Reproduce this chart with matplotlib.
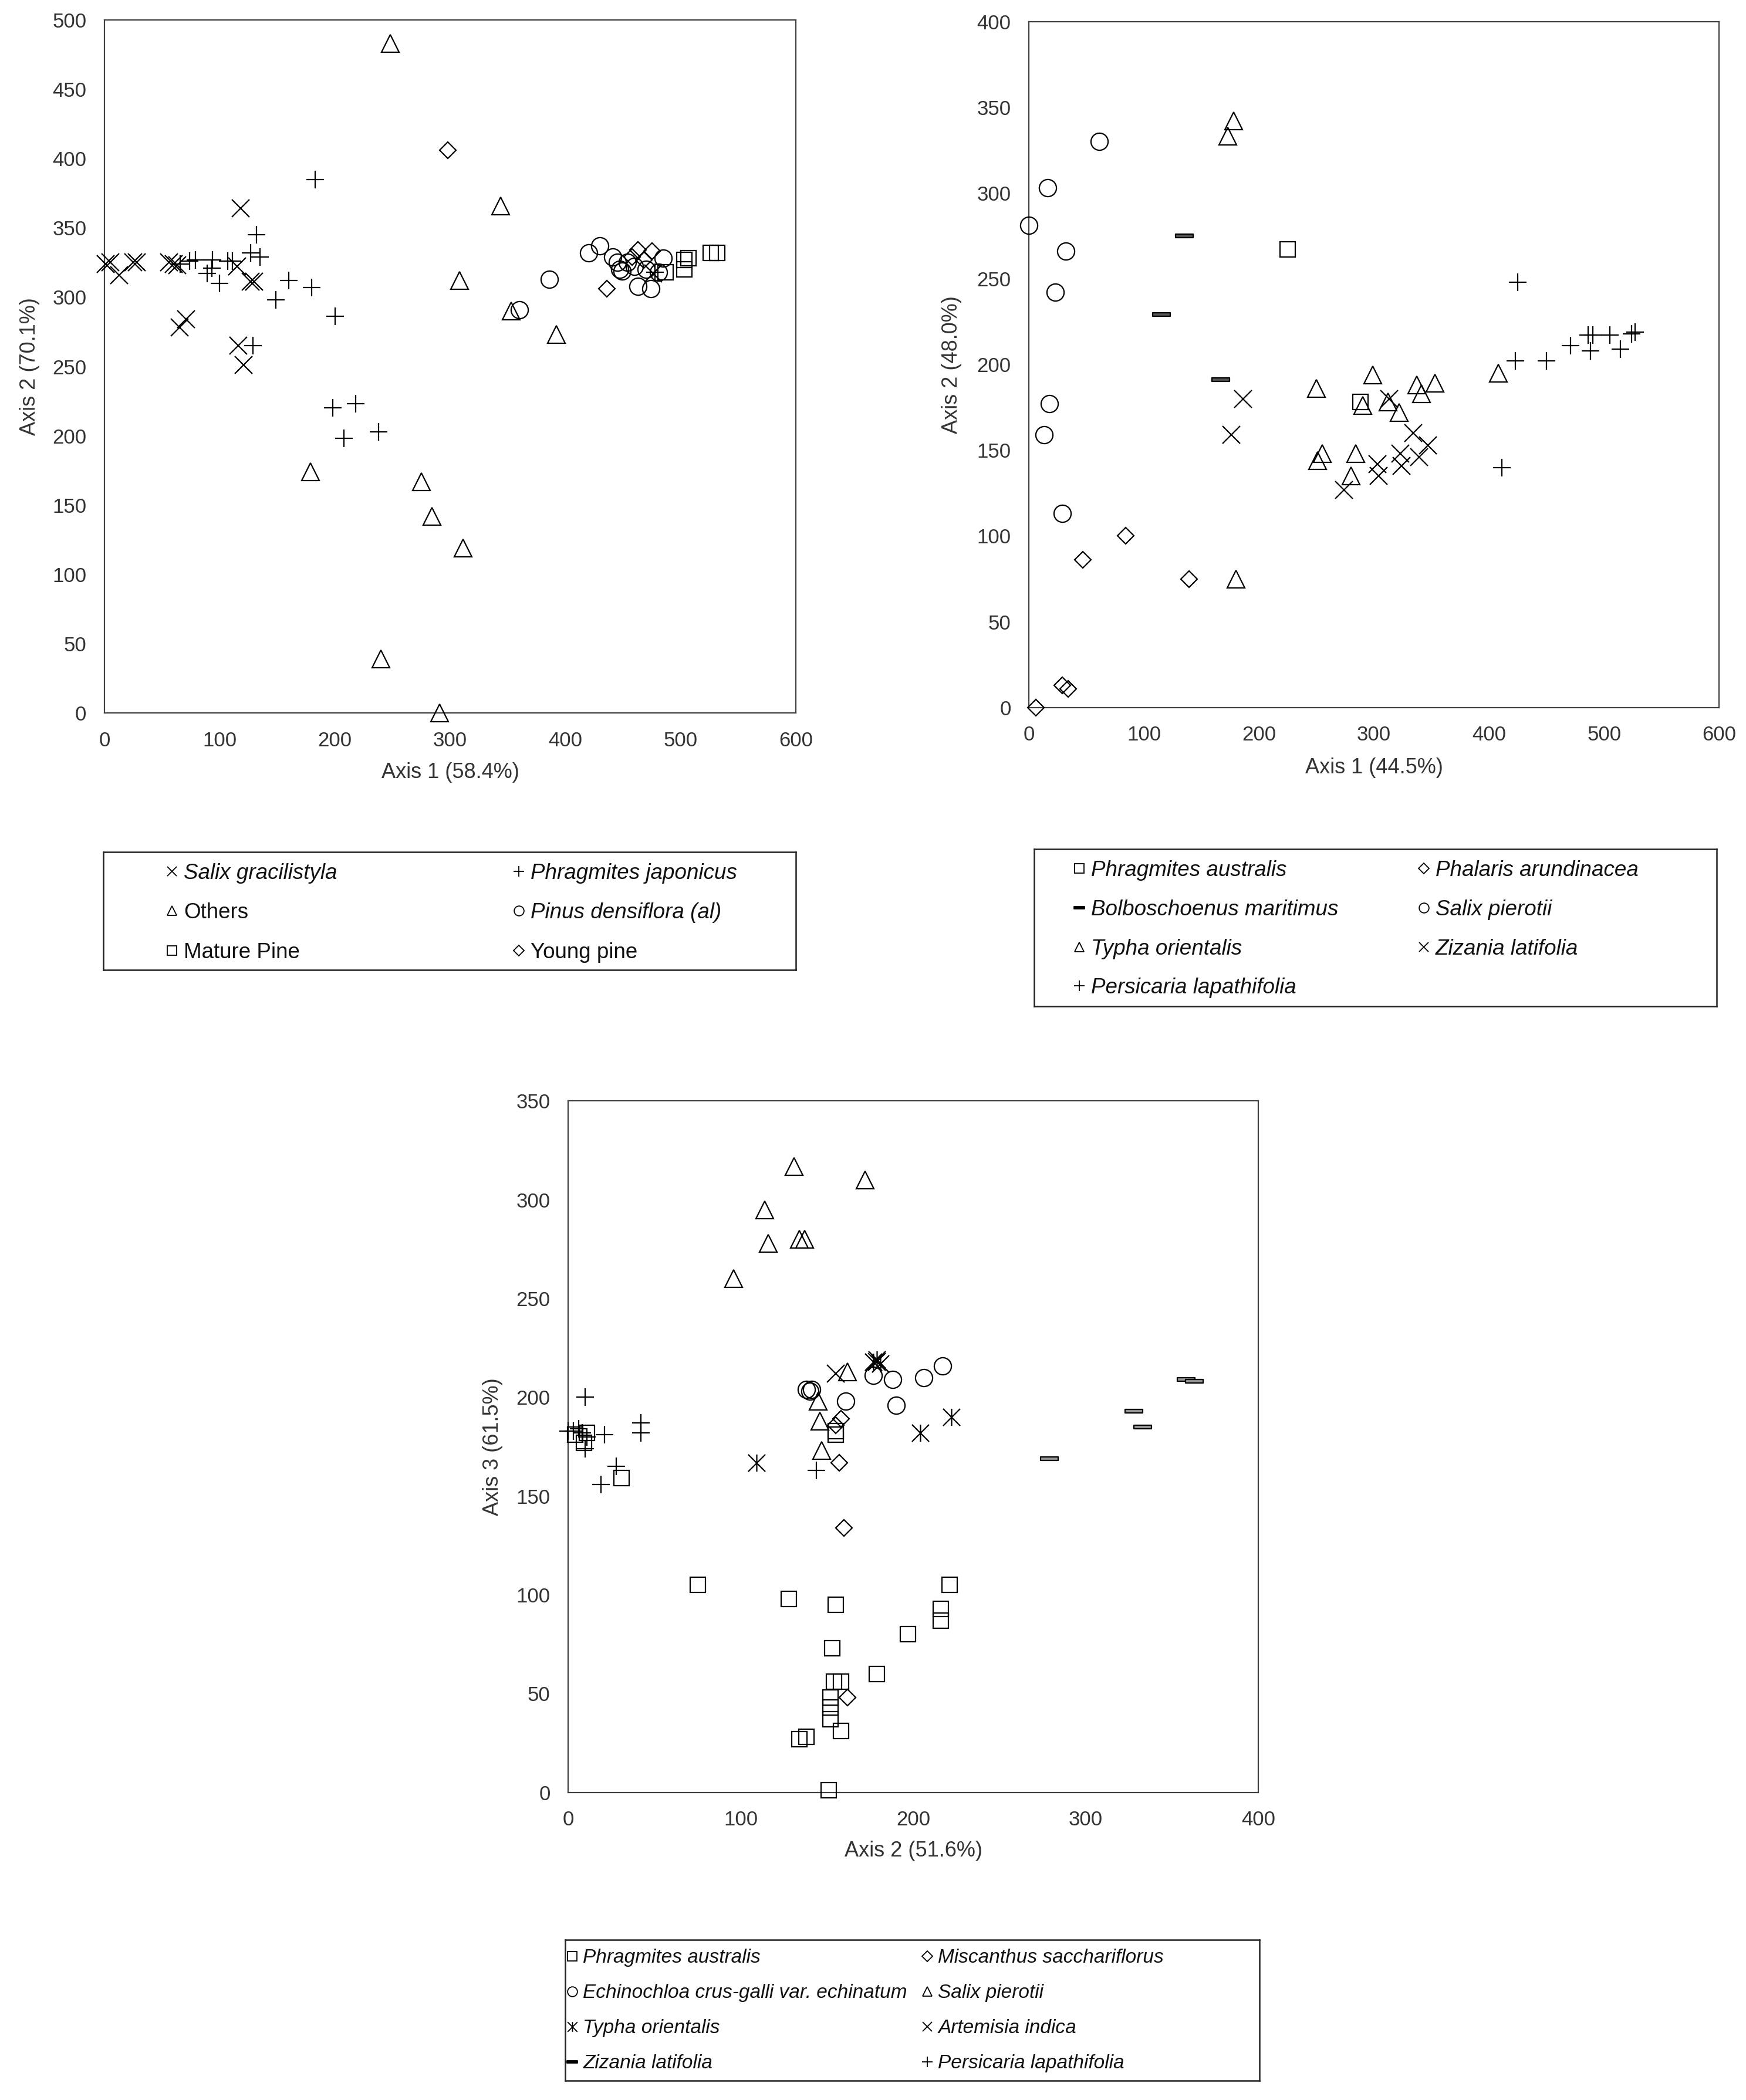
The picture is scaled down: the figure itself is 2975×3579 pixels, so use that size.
import numpy as np
import matplotlib
matplotlib.use("Agg")
import matplotlib.pyplot as plt
from matplotlib.lines import Line2D
from matplotlib.path import Path

plt.rcParams['font.family'] = ['Liberation Sans', 'DejaVu Sans']

# ---------------- panel 1 data (Axis 1 vs Axis 2) ----------------
p1_salix_x = [1, 5, 13, 25, 28, 56, 60, 63, 115, 118, 127, 130, 71, 65, 116, 121, 476]
p1_salix_y = [324, 325, 316, 325, 325, 325, 324, 323, 322, 364, 311, 311, 284, 278, 265, 251, 317]
p1_phrag_x = [183, 132, 127, 135, 66, 74, 79, 94, 89, 93, 100, 107, 111, 160, 180, 149, 200, 129,
              198, 218, 208, 238, 478]
p1_phrag_y = [385, 345, 332, 329, 324, 326, 327, 327, 317, 321, 310, 326, 326, 312, 307, 298, 286, 265,
              220, 223, 198, 203, 318]
p1_others_x = [248, 344, 308, 353, 392, 179, 275, 284, 311, 240, 291]
p1_others_y = [483, 366, 312, 290, 273, 174, 167, 142, 119, 39, 0]
p1_pinus_x = [360, 386, 420, 430, 441, 445, 447, 449, 454, 460, 470, 485, 481, 463, 474]
p1_pinus_y = [291, 313, 332, 337, 329, 325, 320, 319, 325, 322, 320, 328, 318, 308, 306]
p1_mature_x = [487, 503, 503, 507, 526, 532]
p1_mature_y = [318, 320, 327, 328, 332, 332]
p1_young_x = [298, 436, 463, 475, 458, 468]
p1_young_y = [406, 306, 334, 333, 329, 327]

# ---------------- panel 2 data (Axis 1 vs Axis 2) ----------------
p2_phrag_x = [225, 288]
p2_phrag_y = [267, 178]
p2_phalaris_x = [6, 29, 34, 47, 84, 139]
p2_phalaris_y = [0, 13, 11, 86, 100, 75]
p2_bolbo_x = [135, 115, 167]
p2_bolbo_y = [275, 229, 191]
p2_salix_x = [0, 16, 61, 32, 23, 18, 13, 29]
p2_salix_y = [281, 303, 330, 266, 242, 177, 159, 113]
p2_typha_x = [173, 178, 180, 250, 299, 290, 312, 322, 337, 353, 341, 255, 251, 284, 280, 408]
p2_typha_y = [333, 342, 75, 186, 194, 176, 178, 172, 188, 189, 183, 148, 144, 148, 135, 195]
p2_zizania_x = [186, 176, 313, 334, 347, 323, 339, 324, 303, 304, 274]
p2_zizania_y = [180, 159, 180, 160, 153, 148, 146, 141, 142, 135, 127]
p2_persic_x = [425, 411, 423, 450, 471, 488, 486, 490, 505, 514, 524, 527]
p2_persic_y = [248, 140, 202, 202, 211, 208, 217, 217, 217, 209, 218, 219]

# ---------------- panel 3 data (Axis 2 vs Axis 3) ----------------
p3_phrag_x = [31, 4, 9, 11, 75, 128, 155, 221, 216, 216, 197, 179, 153, 154, 158, 152, 152, 152,
              158, 134, 138, 151, 155, 155]
p3_phrag_y = [159, 181, 177, 182, 105, 98, 95, 105, 93, 87, 80, 60, 73, 56, 56, 48, 43, 37,
              31, 27, 28, 1, 181, 183]
p3_miscan_x = [157, 160, 162, 158, 155]
p3_miscan_y = [167, 134, 48, 189, 186]
p3_echino_x = [138, 141, 140, 161, 177, 188, 206, 217, 190]
p3_echino_y = [204, 204, 203, 198, 211, 209, 210, 216, 196]
p3_salix_x = [131, 172, 114, 116, 134, 137, 96, 147, 146, 145, 162]
p3_salix_y = [317, 310, 295, 278, 280, 280, 260, 173, 188, 198, 213]
p3_typha_x = [109, 204, 222, 177, 179, 181]
p3_typha_y = [167, 182, 190, 218, 219, 217]
p3_artem_x = [155, 179]
p3_artem_y = [212, 218]
p3_zizania_x = [279, 328, 333, 358, 363]
p3_zizania_y = [169, 193, 185, 209, 208]
p3_persic_x = [10, 0, 3, 6, 8, 11, 10, 21, 42, 42, 28, 19, 144]
p3_persic_y = [200, 183, 183, 184, 182, 180, 174, 181, 187, 182, 165, 156, 163]

INK = '#333333'
DASH = Path([(-1, -0.22), (1, -0.22), (1, 0.22), (-1, 0.22), (-1, -0.22)],
            [Path.MOVETO, Path.LINETO, Path.LINETO, Path.LINETO, Path.CLOSEPOLY])
STAR = Path([(0, -1), (0, 1), (-1, -1), (1, 1), (-1, 1), (1, -1)],
            [Path.MOVETO, Path.LINETO, Path.MOVETO, Path.LINETO, Path.MOVETO, Path.LINETO])

# marker: (plot size, legend size, face)
STYLE = {
    'x': ('x', 21, 12, 'none'),
    '+': ('+', 21, 13, 'none'),
    '^': ('^', 21, 12, 'none'),
    'o': ('o', 21, 12, 'none'),
    's': ('s', 19, 11, 'none'),
    'D': ('D', 14, 9, 'none'),
    '-': (DASH, 22, 13, '#999999'),
    '=': (DASH, 22, 13, '#555555'),
    '*': (STAR, 21, 12, 'none'),
}


def draw(ax, xs, ys, key):
    m, size, _, face = STYLE[key]
    ax.plot(xs, ys, linestyle='none', marker=m, markersize=size, mfc=face,
            mec='black', mew=1.6, clip_on=False, zorder=3)


def handle(key, label):
    m, _, size, face = STYLE[key]
    if key in ('-', '='):
        face = 'black'
    return Line2D([], [], linestyle='none', marker=m, markersize=size, mfc=face,
                  mec='black', mew=1.3, label=label)


def setup(ax, xmax, ymax, xlabel, ylabel, ylab_x, xlab_y):
    ax.set_xlim(0, xmax)
    ax.set_ylim(0, ymax)
    ax.set_xticks(np.arange(0, xmax + 1, 100))
    ax.set_yticks(np.arange(0, ymax + 1, 50))
    ax.tick_params(length=0, labelsize=25, pad=22, colors=INK)
    for s in ax.spines.values():
        s.set_color('#404040')
        s.set_linewidth(1.6)
    ax.set_xlabel(xlabel, fontsize=26, color=INK)
    ax.set_ylabel(ylabel, fontsize=26, color=INK)
    ax.xaxis.set_label_coords(0.5, xlab_y)
    ax.xaxis.label.set_va('center')
    ax.yaxis.set_label_coords(ylab_x, 0.5)
    ax.yaxis.label.set_va('center')


def legend_box(fig, rect, columns, xs, top, fontsize, spacing):
    box = fig.add_axes(rect)
    box.set_xticks([])
    box.set_yticks([])
    for s in box.spines.values():
        s.set_color('#222222')
        s.set_linewidth(1.8)
    for col, x in zip(columns, xs):
        hs = [handle(k, lab) for k, lab, _ in col]
        leg = fig.legend(handles=hs, loc='upper left', bbox_to_anchor=(x, top),
                         bbox_transform=fig.transFigure, frameon=False, fontsize=fontsize,
                         handlelength=0.6, handletextpad=0.25, labelspacing=spacing,
                         borderpad=0, borderaxespad=0)
        for t, (_, _, ital) in zip(leg.get_texts(), col):
            t.set_color('#111111')
            if ital:
                t.set_style('italic')


fig = plt.figure(figsize=(29.75, 35.79), dpi=100)

# panel 1
ax1 = fig.add_axes([0.0598, 0.6605, 0.396, 0.330])
draw(ax1, p1_mature_x, p1_mature_y, 's')
draw(ax1, p1_pinus_x, p1_pinus_y, 'o')
draw(ax1, p1_young_x, p1_young_y, 'D')
draw(ax1, p1_others_x, p1_others_y, '^')
draw(ax1, p1_phrag_x, p1_phrag_y, '+')
draw(ax1, p1_salix_x, p1_salix_y, 'x')
setup(ax1, 600, 500, 'Axis 1 (58.4%)', 'Axis 2 (70.1%)', -0.108, -0.086)

# panel 2
ax2 = fig.add_axes([0.5893, 0.6631, 0.3953, 0.3267])
draw(ax2, p2_phrag_x, p2_phrag_y, 's')
draw(ax2, p2_phalaris_x, p2_phalaris_y, 'D')
draw(ax2, p2_bolbo_x, p2_bolbo_y, '=')
draw(ax2, p2_salix_x, p2_salix_y, 'o')
draw(ax2, p2_typha_x, p2_typha_y, '^')
draw(ax2, p2_zizania_x, p2_zizania_y, 'x')
draw(ax2, p2_persic_x, p2_persic_y, '+')
setup(ax2, 600, 400, 'Axis 1 (44.5%)', 'Axis 2 (48.0%)', -0.112, -0.088)

# panel 3
ax3 = fig.add_axes([0.3254, 0.1465, 0.3953, 0.3292])
draw(ax3, p3_phrag_x, p3_phrag_y, 's')
draw(ax3, p3_miscan_x, p3_miscan_y, 'D')
draw(ax3, p3_echino_x, p3_echino_y, 'o')
draw(ax3, p3_salix_x, p3_salix_y, '^')
draw(ax3, p3_typha_x, p3_typha_y, '*')
draw(ax3, p3_artem_x, p3_artem_y, 'x')
draw(ax3, p3_zizania_x, p3_zizania_y, '-')
draw(ax3, p3_persic_x, p3_persic_y, '+')
setup(ax3, 400, 350, 'Axis 2 (51.6%)', 'Axis 3 (61.5%)', -0.109, -0.085)

# legends
legend_box(fig, [0.0592, 0.5381, 0.3966, 0.0562],
           [[('x', 'Salix gracilistyla', True), ('^', 'Others', False), ('s', 'Mature Pine', False)],
            [('+', 'Phragmites japonicus', True), ('o', 'Pinus densiflora (al)', True),
             ('D', 'Young pine', False)]],
           [0.0948, 0.2934], 0.5890, 26.5, 0.88)

legend_box(fig, [0.5923, 0.5208, 0.3909, 0.0749],
           [[('s', 'Phragmites australis', True), ('=', 'Bolboschoenus maritimus', True),
             ('^', 'Typha orientalis', True), ('+', 'Persicaria lapathifolia', True)],
            [('D', 'Phalaris arundinacea', True), ('o', 'Salix pierotii', True),
             ('x', 'Zizania latifolia', True)]],
           [0.6145, 0.8116], 0.5903, 26.5, 0.86)

legend_box(fig, [0.3237, 0.0092, 0.3976, 0.0671],
           [[('s', 'Phragmites australis', True), ('o', 'Echinochloa crus-galli var. echinatum', True),
             ('*', 'Typha orientalis', True), ('-', 'Zizania latifolia', True)],
            [('D', 'Miscanthus sacchariflorus', True), ('^', 'Salix pierotii', True),
             ('x', 'Artemisia indica', True), ('+', 'Persicaria lapathifolia', True)]],
           [0.3244, 0.5277], 0.0720, 24, 0.87)

fig.savefig('out.png', dpi=100, facecolor='white')
